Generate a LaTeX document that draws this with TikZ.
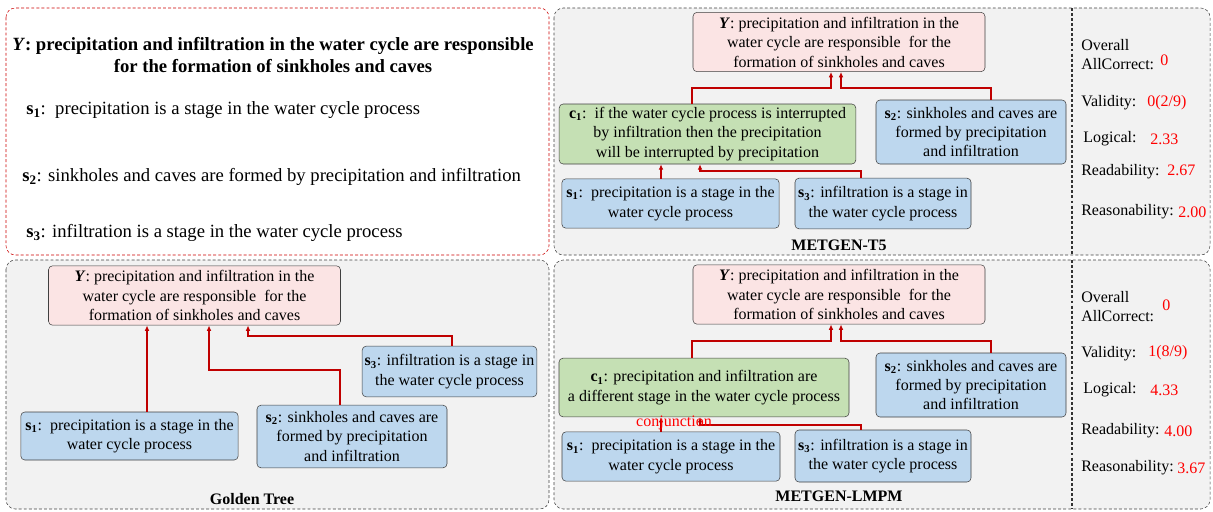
\documentclass[tikz,border=0pt]{standalone}
\usepackage{fontspec}
\setmainfont{Liberation Serif}
\usepackage{tikz}
\usetikzlibrary{arrows.meta}

\definecolor{panelgray}{HTML}{F2F2F2}
\definecolor{ypink}{HTML}{FBE4E4}
\definecolor{cgreen}{HTML}{C5E0B4}
\definecolor{sblue}{HTML}{BDD7EE}
\definecolor{linkred}{HTML}{C00000}
\definecolor{boxline}{HTML}{404040}

\newcommand{\sname}[1]{\textbf{s\textsubscript{#1}}}
\newcommand{\cname}[1]{\textbf{c\textsubscript{#1}}}
\newcommand{\yname}{\textbf{\textit{Y}}}

\begin{document}
\begin{tikzpicture}[x=0.75pt, y=-0.75pt,
    box/.style={draw=boxline, rounded corners=3pt, align=center, inner sep=1pt,
      font=\fontsize{12}{14.6}\selectfont},
    ybox/.style={box, fill=ypink, minimum width=219pt, minimum height=44.5pt},
    cbox/.style={box, fill=cgreen},
    sbox/.style={box, fill=sblue},
    link/.style={draw=linkred, line width=0.8pt, -{Latex[length=4pt,width=3.5pt]}},
    panel/.style={draw=black!75, dash pattern=on 2.2pt off 1.6pt, rounded corners=7pt, fill=panelgray},
    score/.style={anchor=west, align=left, inner sep=0pt, font=\fontsize{12}{14.2}\selectfont},
    val/.style={anchor=west, inner sep=0pt, text=red, font=\fontsize{12}{14}\selectfont},
    title/.style={font=\bfseries\fontsize{12}{14}\selectfont}]
    \useasboundingbox (0,0) rectangle (1213,511);

    % Panels
    \draw[draw=red!80!black, dash pattern=on 2.2pt off 1.6pt, rounded corners=7pt, fill=white]
      (6,8) rectangle (549,255);
    \draw[panel] (6,260) rectangle (549,509);
    \draw[panel] (554,8) rectangle (1210,255);
    \draw[panel] (554,260) rectangle (1210,509);
    \draw[black!80, dash pattern=on 2.2pt off 1.6pt, line width=0.8pt] (1072,8) -- (1072,255);
    \draw[black!80, dash pattern=on 2.2pt off 1.6pt, line width=0.8pt] (1072,260) -- (1072,509);

    % Question
    \node(Q) at (273,55) [align=center, font=\bfseries\fontsize{14}{16}\selectfont]
      {\textit{Y}: precipitation and infiltration in the water cycle are responsible\\
       for the formation of sinkholes and caves};
    \node(Q1) at (26,110) [anchor=west, inner sep=0pt, font=\fontsize{14}{16}\selectfont]
      {\sname{1}:\ \ precipitation is a stage in the water cycle process};
    \node(Q2) at (22,177) [anchor=west, inner sep=0pt, font=\fontsize{14}{16}\selectfont]
      {\sname{2}: sinkholes and caves are formed by precipitation and infiltration};
    \node(Q3) at (26,233) [anchor=west, inner sep=0pt, font=\fontsize{14}{16}\selectfont]
      {\sname{3}: infiltration is a stage in the water cycle process};

    % Golden tree
    \node[ybox](YG) at (194.5,295.5) {\yname: precipitation and infiltration in the\\
      water cycle are responsible\ \ for the\\ formation of sinkholes and caves};
    \node[sbox, minimum width=163pt, minimum height=36pt](S1G) at (129.5,436)
      {\sname{1}:\ \ precipitation is a stage in the\\ water cycle process};
    \node[sbox, minimum width=142.5pt, minimum height=47pt](S2G) at (352,436.5)
      {\sname{2}: sinkholes and caves are\\ formed by precipitation\\ and infiltration};
    \node[sbox, minimum width=131pt, minimum height=38pt](S3G) at (449.5,371.5)
      {\sname{3}: infiltration is a stage in\\ the water cycle process};
    \node[title](TG) at (252,499) {Golden Tree};

    \draw[link] (S1G.north -| 147,0) -- (YG.south -| 147,0);
    \draw[link] (S2G.north -| 340,0) -- (340,370) -| (YG.south -| 209,0);
    \draw[link] (S3G.north -| 452,0) -- (452,336) -| (YG.south -| 248,0);

    % METGEN-T5
    \node[ybox](YT) at (839,42) {\yname: precipitation and infiltration in the\\
      water cycle are responsible\ \ for the\\ formation of sinkholes and caves};
    \node[cbox, minimum width=222.5pt, minimum height=45pt](C1T) at (707.5,134)
      {\cname{1}:\ \ if the water cycle process is interrupted\\
       by infiltration then the precipitation\\ will be interrupted by precipitation};
    \node[sbox, minimum width=142.5pt, minimum height=48pt](S2T) at (971,132)
      {\sname{2}: sinkholes and caves are\\ formed by precipitation\\ and infiltration};
    \node[sbox, minimum width=163pt, minimum height=37pt](S1T) at (670.5,203.5)
      {\sname{1}:\ \ precipitation is a stage in the\\ water cycle process};
    \node[sbox, minimum width=132pt, minimum height=38pt](S3T) at (883,203.5)
      {\sname{3}: infiltration is a stage in\\ the water cycle process};
    \node[title](TT) at (839,245) {METGEN-T5};

    \draw[link] (C1T.north -| 692,0) -- (692,88) -| (YT.south -| 831,0);
    \draw[link] (S2T.north -| 991,0) -- (991,88) -| (YT.south -| 841,0);
    \draw[link] (S1T.north -| 661,0) -- (C1T.south -| 661,0);
    \draw[link] (S3T.north -| 861,0) -- (861,171) -| (C1T.south -| 700,0);

    % METGEN-LMPM
    \node[ybox](YL) at (839,294.5) {\yname: precipitation and infiltration in the\\
      water cycle are responsible\ \ for the\\ formation of sinkholes and caves};
    \node[cbox, minimum width=217.5pt, minimum height=44pt](C1L) at (704,387.5)
      {\cname{1}: precipitation and infiltration are\\
       a different stage in the water cycle process};
    \node[sbox, minimum width=142.5pt, minimum height=48pt](S2L) at (971,385)
      {\sname{2}: sinkholes and caves are\\ formed by precipitation\\ and infiltration};
    \node[sbox, minimum width=163.5pt, minimum height=37pt](S1L) at (671,456.5)
      {\sname{1}:\ \ precipitation is a stage in the\\ water cycle process};
    \node[sbox, minimum width=132pt, minimum height=39pt](S3L) at (883,456)
      {\sname{3}: infiltration is a stage in\\ the water cycle process};
    \node[title](TL) at (839,496) {METGEN-LMPM};

    \draw[link] (C1L.north -| 692,0) -- (692,341) -| (YL.south -| 831,0);
    \draw[link] (S2L.north -| 991,0) -- (991,341) -| (YL.south -| 841,0);
    \draw[link] (S1L.north -| 661,0) -- (C1L.south -| 661,0);
    \draw[link] (S3L.north -| 861,0) -- (861,425) -| (C1L.south -| 700,0);
    \node(CJ) at (674,423) [text=red, inner sep=0pt, font=\fontsize{12}{14}\selectfont] {conjunction};

    % Scores
    \node[score](OA1) at (1081,55) {Overall\\AllCorrect:};
    \node[val](OV1) at (1160,60) {0};
    \node[score](VA1) at (1081,103) {Validity:};
    \node[val](VV1) at (1147,103) {0(2/9)};
    \node[score](LO1) at (1083,139) {Logical:};
    \node[val](LV1) at (1150,139) {2.33};
    \node[score](RE1) at (1081,172) {Readability:};
    \node[val](RV1) at (1167,170) {2.67};
    \node[score](RS1) at (1081,212) {Reasonability:};
    \node[val](SV1) at (1178,212) {2.00};

    \node[score](OA2) at (1081,307) {Overall\\AllCorrect:};
    \node[val](OV2) at (1162,305) {0};
    \node[score](VA2) at (1081,354) {Validity:};
    \node[val](VV2) at (1148,353) {1(8/9)};
    \node[score](LO2) at (1083,390) {Logical:};
    \node[val](LV2) at (1150,390) {4.33};
    \node[score](RE2) at (1081,431) {Readability:};
    \node[val](RV2) at (1164,431) {4.00};
    \node[score](RS2) at (1081,468) {Reasonability:};
    \node[val](SV2) at (1177,468) {3.67};
  \end{tikzpicture}
\end{document}
